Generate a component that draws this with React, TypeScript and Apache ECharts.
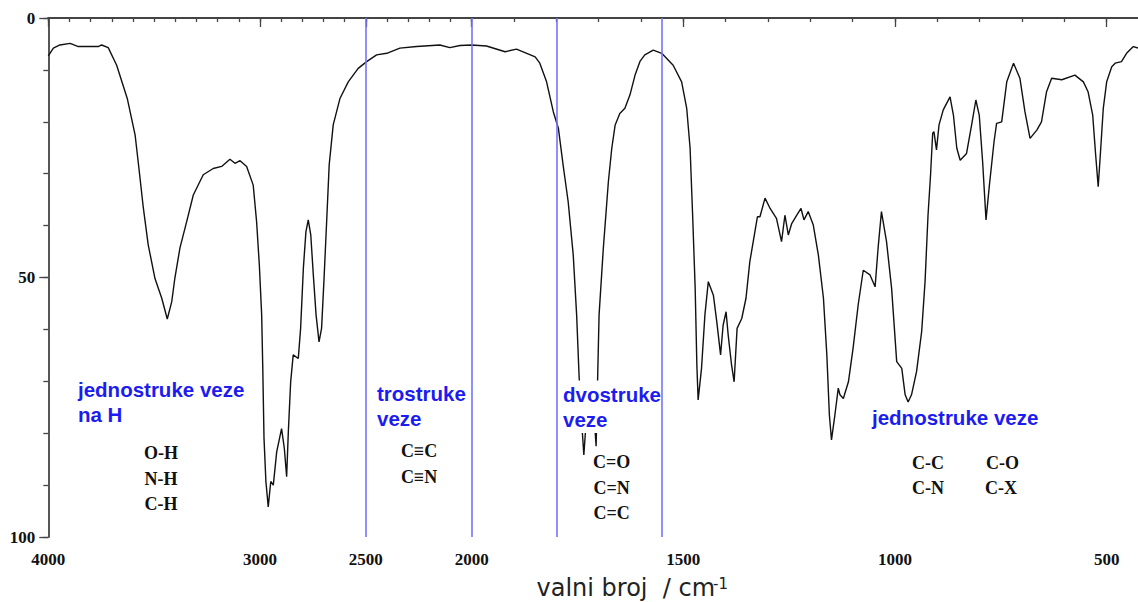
import React, { useEffect, useRef } from "react";
import * as echarts from "echarts";

// ---- Data ----
// Wavenumber (cm^-1) and transmittance-like scale (0 top, 100 bottom), 4000–2000 region
const WN_HIGH = [
  4000, 3976, 3945, 3897, 3858, 3764, 3748, 3717, 3677, 3627, 3590, 3572, 3551, 3528, 3496, 3464,
  3438, 3417, 3402, 3378, 3346, 3315, 3268, 3221, 3181, 3142, 3118, 3094, 3063, 3032, 3016, 3003,
  2992, 2987, 2981, 2972, 2961, 2949, 2937, 2921, 2898, 2885, 2874, 2866, 2855, 2843, 2819, 2808,
  2795, 2783, 2772, 2760, 2748, 2735, 2721, 2709, 2698, 2685, 2673, 2654, 2622, 2583, 2536, 2496,
  2449, 2401, 2339, 2260, 2150, 2103, 2055, 2000,
];
const T_HIGH = [
  7.3, 5.8, 5.2, 4.9, 5.5, 5.5, 5.2, 5.7, 9.1, 15.5, 22.5, 28.9, 36.6, 43.7, 50.2, 54,
  58, 54.7, 50.1, 44.3, 39.2, 34.1, 30.2, 29, 28.6, 27.2, 28, 27.5, 28.6, 32.2, 39.2, 47.6,
  57.2, 66.9, 80.9, 89.3, 94.2, 89.3, 90, 83.6, 79.1, 82.9, 88.4, 79.7, 70.1, 64.9, 65.6, 59.8,
  48.2, 41.2, 38.9, 41.8, 49.5, 57.2, 62.4, 59.8, 50.8, 39.2, 28.3, 20.6, 15.5, 12.3, 9.7, 8.4,
  7.1, 6.8, 5.8, 5.5, 5.2, 5.7, 5.3, 5.2,
];
// 2000–426 region
const WN_LOW = [
  1965, 1921, 1894, 1850, 1839, 1823, 1807, 1795, 1784, 1772, 1760, 1752, 1746, 1740, 1735, 1728,
  1720, 1712, 1706, 1702, 1699, 1689, 1677, 1669, 1661, 1650, 1638, 1626, 1614, 1602, 1591, 1571,
  1551, 1524, 1504, 1492, 1484, 1478, 1472, 1468, 1465, 1457, 1449, 1441, 1429, 1421, 1412, 1406,
  1399, 1394, 1386, 1380, 1373, 1362, 1352, 1343, 1331, 1325, 1319, 1307, 1295, 1280, 1268, 1260,
  1252, 1244, 1232, 1222, 1215, 1205, 1193, 1181, 1169, 1161, 1155, 1150, 1142, 1134, 1130, 1122,
  1110, 1099, 1087, 1075, 1059, 1047, 1040, 1032, 1020, 1008, 996, 984, 976, 969, 961, 949,
  937, 929, 922, 916, 911, 908, 902, 896, 886, 870, 862, 854, 846, 831, 819, 809,
  801, 793, 785, 777, 766, 760, 748, 736, 720, 705, 693, 681, 665, 654, 642, 630,
  606, 575, 555, 544, 533, 526, 520, 514, 508, 500, 488, 480, 465, 453, 437, 426,
];
const T_LOW = [
  5.4, 6.5, 6.0, 7.5, 8.7, 12.3, 18.1, 21.3, 28.3, 35.4, 45.7, 57.2, 69.4, 78, 84.2, 76,
  73, 75, 82.5, 68, 57.2, 44.4, 31.5, 25.1, 20.6, 18.4, 17.4, 14.8, 11, 8.3, 7.1, 6.2,
  6.8, 9.1, 12.3, 17.4, 25.1, 38, 52.1, 66.9, 73.6, 67.5, 57.2, 50.8, 53.4, 58.5, 64.9, 59.2,
  56.6, 61.1, 66.9, 70.1, 59.8, 57.9, 54, 47, 41.2, 38.3, 38.3, 34.7, 36.7, 38.6, 43.1, 38,
  41.8, 39.6, 38, 36.7, 38.9, 37.3, 39.9, 45.7, 54, 64.9, 76.5, 81.3, 76.5, 71.3, 72.6, 73.3,
  70.1, 63.6, 55.3, 48.6, 49.5, 51.8, 44.4, 37.3, 43.1, 52.1, 66.2, 67.5, 72.6, 74, 72.6, 68.1,
  60.4, 50.8, 38, 30.2, 22.2, 21.9, 25.4, 20.6, 17.7, 15.2, 18.7, 25.1, 27.4, 26.1, 20.6, 15.8,
  18.7, 27.7, 38.9, 32.2, 23.8, 20.3, 20, 12.3, 8.7, 11.6, 18.1, 23.2, 21.6, 20, 14.2, 11.6,
  11.9, 11, 12.3, 14.2, 18.7, 26.4, 32.5, 25.1, 17.4, 12.3, 9.4, 8.7, 8.4, 6.8, 5.5, 5.8,
];

const X_LABELS = [4000, 3000, 2500, 2000, 1500, 1000, 500];
const X_TICKS = [
  4000, 3900, 3800, 3700, 3600, 3500, 3400, 3300, 3200, 3100, 3000, 2900, 2800, 2700, 2600, 2500,
  2400, 2300, 2200, 2100, 2000, 1900, 1800, 1700, 1600, 1500, 1400, 1300, 1200, 1100, 1000, 900,
  800, 700, 600, 500,
];
const Y_MAJOR = [0, 50, 100];
const REGION_LINES = [2500, 2000, 1800, 1550];
const X_END = 426;

const BLUE_LABELS = [
  { text: "jednostruke veze", x: 78, y: 389.6 },
  { text: "na H", x: 78, y: 414.6 },
  { text: "trostruke", x: 377, y: 393 },
  { text: "veze", x: 377, y: 418 },
  { text: "dvostruke", x: 563, y: 394, bg: true },
  { text: "veze", x: 563, y: 419.6, bg: true },
  { text: "jednostruke veze", x: 872, y: 417 },
];
const BOND_LABELS = [
  { text: "O-H", x: 161, y: 453.3 },
  { text: "N-H", x: 161, y: 479.3 },
  { text: "C-H", x: 161, y: 504 },
  { text: "C\u2261C", x: 419, y: 450.7 },
  { text: "C\u2261N", x: 419, y: 476.7 },
  { text: "C=O", x: 611.7, y: 462.3 },
  { text: "C=N", x: 611.7, y: 488.3 },
  { text: "C=C", x: 611.7, y: 513.3 },
  { text: "C-C", x: 928, y: 462.7 },
  { text: "C-N", x: 928, y: 488.3 },
  { text: "C-O", x: 1002.5, y: 462.7 },
  { text: "C-X", x: 1001, y: 488.3 },
];

// piecewise wavenumber scale: 4000–2000 compressed 2x relative to 2000–400
const toU = (wn: number) => (wn >= 2000 ? (4000 - wn) / 2 : 1000 + (2000 - wn));
const fromU = (u: number) => (u <= 1000 ? 4000 - 2 * u : 2000 - (u - 1000));

export default function App() {
  const ref = useRef<HTMLDivElement>(null);

  useEffect(() => {
    document.body.style.margin = "0";
    if (!ref.current) return;
    const chart = echarts.init(ref.current, null, { renderer: "svg" });

    const wn = [...WN_HIGH, ...WN_LOW];
    const tv = [...T_HIGH, ...T_LOW];
    const data = wn.map((w, i) => [toU(w), tv[i]]);
    const xMax = toU(X_END);
    const axisColor = "#444";

    const blueStyle = {
      fontFamily: "Liberation Sans",
      fontWeight: "bold" as const,
      fontSize: 20.5,
      fill: "#1c1cf0",
    };
    const bondStyle = {
      fontFamily: "Liberation Serif",
      fontWeight: "bold" as const,
      fontSize: 18,
      fill: "#111",
    };

    const graphics: any[] = [
      ...BLUE_LABELS.map((l) => ({
        type: "text",
        x: l.x,
        y: l.y,
        z: 100,
        style: {
          ...blueStyle,
          text: l.text,
          align: "left",
          verticalAlign: "middle",
          ...(l.bg ? { backgroundColor: "#fff", padding: [3, 0, 3, 0] } : {}),
        },
      })),
      ...BOND_LABELS.map((l) => ({
        type: "text",
        x: l.x,
        y: l.y,
        z: 100,
        style: { ...bondStyle, text: l.text, align: "center", verticalAlign: "middle" },
      })),
      {
        type: "text",
        x: 536.5,
        y: 588.4,
        z: 100,
        style: {
          text: "valni broj  / cm",
          fontFamily: "DejaVu Sans",
          fontSize: 24,
          fill: "#222",
          align: "left",
          verticalAlign: "middle",
        },
      },
      {
        type: "text",
        x: 713,
        y: 583.5,
        z: 100,
        style: {
          text: "-1",
          fontFamily: "DejaVu Sans",
          fontSize: 15,
          fill: "#222",
          align: "left",
          verticalAlign: "middle",
        },
      },
    ];

    const tickLabelFont = {
      fontFamily: "Liberation Serif",
      fontWeight: "bold" as const,
      fontSize: 17,
      color: "#111",
    };

    chart.setOption({
      animation: false,
      backgroundColor: "#fff",
      grid: { left: 48.3, right: 0, top: 18, bottom: 65, containLabel: false },
      xAxis: [
        {
          type: "value",
          position: "bottom",
          min: 0,
          max: xMax,
          axisLine: { show: true, lineStyle: { color: axisColor, width: 1.8 } },
          axisTick: {
            show: true,
            customValues: X_TICKS.map(toU),
            length: 4,
            lineStyle: { color: axisColor, width: 1.3 },
          },
          axisLabel: {
            show: true,
            customValues: X_LABELS.map(toU),
            formatter: (v: number) => String(Math.round(fromU(v))),
            margin: 14,
            ...tickLabelFont,
          },
          splitLine: { show: false },
        },
        {
          type: "value",
          position: "bottom",
          offset: 0,
          min: 0,
          max: xMax,
          axisLine: { show: false },
          axisTick: {
            show: true,
            customValues: X_LABELS.map(toU),
            length: 9,
            lineStyle: { color: axisColor, width: 1.3 },
          },
          axisLabel: { show: false },
          splitLine: { show: false },
        },
        {
          type: "value",
          position: "top",
          min: 0,
          max: xMax,
          axisLine: { show: true, lineStyle: { color: axisColor, width: 1.8 } },
          axisTick: { show: false },
          axisLabel: { show: false },
          splitLine: { show: false },
        },
      ],
      yAxis: [
        {
          type: "value",
          position: "left",
          inverse: true,
          min: 0,
          max: 100,
          interval: 10,
          axisLine: { show: true, lineStyle: { color: axisColor, width: 1.8 } },
          axisTick: { show: true, length: 5, lineStyle: { color: axisColor, width: 1.3 } },
          axisLabel: {
            show: true,
            customValues: Y_MAJOR,
            margin: 13,
            ...tickLabelFont,
          },
          splitLine: { show: false },
        },
        {
          type: "value",
          position: "left",
          offset: 0,
          inverse: true,
          min: 0,
          max: 100,
          axisLine: { show: false },
          axisTick: {
            show: true,
            customValues: Y_MAJOR,
            length: 9,
            lineStyle: { color: axisColor, width: 1.3 },
          },
          axisLabel: { show: false },
          splitLine: { show: false },
        },
      ],
      series: [
        {
          type: "line",
          xAxisIndex: 0,
          yAxisIndex: 0,
          data,
          showSymbol: false,
          symbol: "none",
          smooth: false,
          lineStyle: { color: "#111", width: 1.4 },
          z: 3,
          markLine: {
            silent: true,
            symbol: ["none", "none"],
            label: { show: false },
            lineStyle: { color: "#7474ff", width: 1.6, type: "solid" },
            data: REGION_LINES.map((w) => ({ xAxis: toU(w) })),
          },
        },
      ],
      graphic: graphics,
    });

    return () => chart.dispose();
  }, []);

  return <div ref={ref} style={{ width: 1138, height: 602 }} />;
}
